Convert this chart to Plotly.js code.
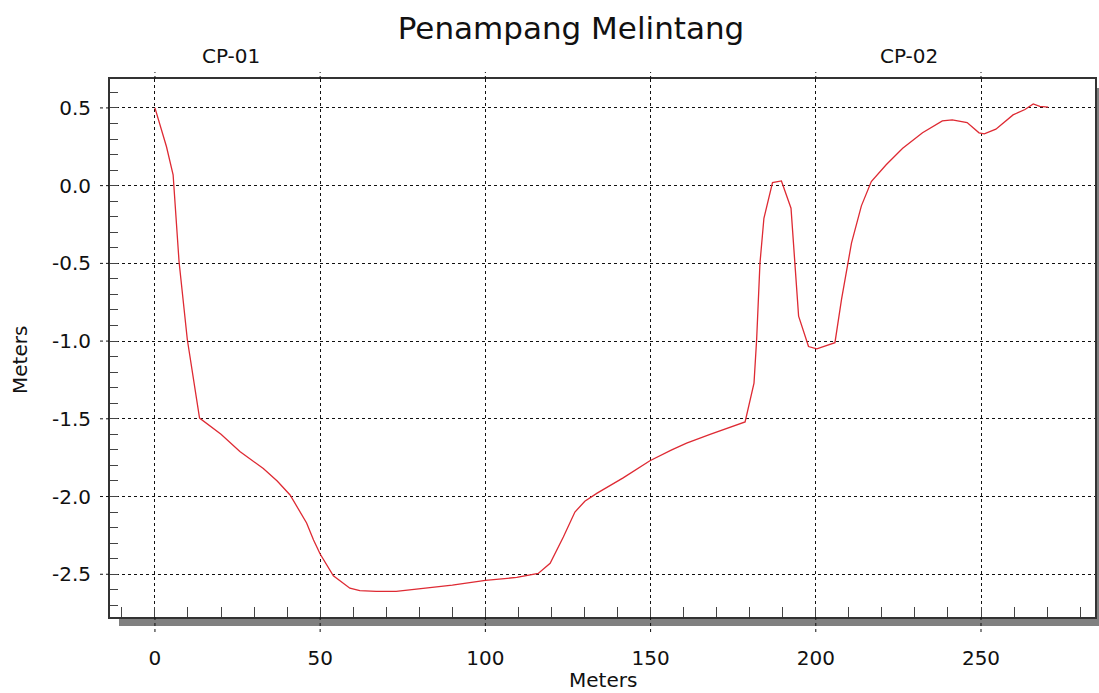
<!DOCTYPE html>
<html>
<head>
<meta charset="utf-8">
<script src="https://cdn.plot.ly/plotly-3.0.1.min.js"></script>
<style>
  html, body { margin: 0; padding: 0; background: #ffffff; }
  #chart { width: 1099px; height: 693px; }
</style>
</head>
<body>
<div id="chart"></div>
<script>
// Distance along the section (m)
var distance = [0, 3.5, 5.5, 7.3, 9.8, 13.5, 20, 25.7, 32.8, 37, 40.9, 43.5, 45.9, 48, 50, 54, 59, 62, 67, 73,
  80, 90, 100, 109.5, 116, 119.6, 123.6, 127.1, 130.1, 133.7, 141.7, 149.8, 156.4, 160.9, 168, 178.6,
  181.3, 182.1, 183.1, 184.3, 186.9, 189.6, 192.5, 193.7, 194.8, 197.8, 200.3, 205.8, 207.8, 210.8,
  213.8, 216.8, 221.3, 226.3, 232.3, 238.3, 241.3, 245.8, 249.4, 251, 254.5, 259.7, 263.3, 265.8, 267.8, 270.3];
// Elevation (m)
var elevation = [0.5, 0.25, 0.07, -0.49, -0.99, -1.495, -1.60, -1.71, -1.82, -1.90, -1.99, -2.085, -2.17, -2.28, -2.37,
  -2.51, -2.59, -2.605, -2.61, -2.61, -2.595, -2.57, -2.54, -2.52, -2.495, -2.43, -2.26, -2.10, -2.03, -1.98,
  -1.88, -1.77, -1.70, -1.656, -1.60, -1.52, -1.27, -0.99, -0.50, -0.21, 0.02, 0.03, -0.145, -0.48, -0.84,
  -1.035, -1.05, -1.01, -0.73, -0.37, -0.13, 0.026, 0.134, 0.24, 0.34, 0.417, 0.423, 0.406, 0.34, 0.333,
  0.363, 0.455, 0.49, 0.526, 0.51, 0.505];

var xTickVals = [0, 50, 100, 150, 200, 250];
var xTickText = ['0', '50', '100', '150', '200', '250'];
var yTickVals = [0.5, 0, -0.5, -1, -1.5, -2, -2.5];
var yTickText = ['0.5', '0.0', '-0.5', '-1.0', '-1.5', '-2.0', '-2.5'];

var stationNames = ['CP-01', 'CP-02'];
var stationPos = [22.9, 228.2];

var titleText = 'Penampang Melintang';
var xTitle = 'Meters';
var yTitle = 'Meters';

var FONT = 'DejaVu Sans, Verdana, sans-serif';
var xRange = [-13.6, 284.5];
var yRange = [-2.775, 0.686];

var M = {l: 110, r: 4, t: 79, b: 76};
var W = 1099, H = 693;
var pw = W - M.l - M.r, ph = H - M.t - M.b;

var shapes = [];
// dashed grid extensions outside the plot frame
xTickVals.forEach(function (v) {
  shapes.push({type: 'line', xref: 'x', yref: 'paper', x0: v, x1: v, y0: 1, y1: 1 + 7 / ph,
    line: {color: '#111', width: 1, dash: '3px,3px'}});
  shapes.push({type: 'line', xref: 'x', yref: 'paper', x0: v, x1: v, y0: 0, y1: -16 / ph,
    line: {color: '#111', width: 1, dash: '3px,3px'}});
});
yTickVals.forEach(function (v) {
  shapes.push({type: 'line', xref: 'paper', yref: 'y', x0: -10 / pw, x1: 0, y0: v, y1: v,
    line: {color: '#111', width: 1, dash: '3px,3px'}});
});
// drop shadow (bottom and right)
shapes.push({type: 'rect', xref: 'paper', yref: 'paper', layer: 'below',
  x0: 9 / pw, x1: 1 + 9 / pw, y0: -9 / ph, y1: -1 / ph, line: {width: 0}, fillcolor: '#808080'});
shapes.push({type: 'rect', xref: 'paper', yref: 'paper', layer: 'below',
  x0: 1 + 1 / pw, x1: 1 + 9 / pw, y0: -9 / ph, y1: 1 - 9 / ph, line: {width: 0}, fillcolor: '#808080'});

var annotations = stationNames.map(function (n, i) {
  return {text: n, x: stationPos[i], xref: 'x', y: 1 + 23 / ph, yref: 'paper',
    xanchor: 'center', yanchor: 'middle', showarrow: false,
    font: {family: FONT, size: 20, color: '#111'}};
});
annotations.push({text: xTitle, xref: 'paper', yref: 'paper', x: 0.5, y: -63 / ph,
  xanchor: 'center', yanchor: 'middle', showarrow: false, font: {family: FONT, size: 20, color: '#111'}});
annotations.push({text: yTitle, xref: 'paper', yref: 'paper', x: -90 / pw, y: (H - M.b - 360) / ph,
  xanchor: 'center', yanchor: 'middle', textangle: -90, showarrow: false,
  font: {family: FONT, size: 20, color: '#111'}});

var trace = {
  x: distance, y: elevation, type: 'scatter', mode: 'lines',
  line: {color: '#de2a33', width: 1.3}, hoverinfo: 'x+y', showlegend: false
};

var layout = {
  width: W, height: H,
  margin: M,
  paper_bgcolor: '#ffffff', plot_bgcolor: '#ffffff',
  title: {text: titleText, x: 571 / W, xref: 'container', xanchor: 'center', y: 1 - 28 / H, yanchor: 'middle',
    font: {family: FONT, size: 31, color: '#111'}},
  font: {family: FONT, size: 20, color: '#111'},
  xaxis: {
    range: xRange, tickmode: 'array', tickvals: xTickVals, ticktext: xTickText,
    ticks: '', ticklabelstandoff: 22,
    showgrid: true, gridcolor: '#111', gridwidth: 1, griddash: '3px,3px',
    zeroline: false, showline: true, linecolor: '#333', linewidth: 2, mirror: true,
    tickfont: {family: FONT, size: 20, color: '#111'},
    minor: {tickmode: 'linear', tick0: 0, dtick: 10, ticks: 'inside', ticklen: 10, tickwidth: 1,
      tickcolor: '#444', showgrid: false}
  },
  yaxis: {
    range: yRange, tickmode: 'array', tickvals: yTickVals, ticktext: yTickText,
    ticks: '', ticklabelstandoff: 13,
    showgrid: true, gridcolor: '#111', gridwidth: 1, griddash: '3px,3px',
    zeroline: false, showline: true, linecolor: '#333', linewidth: 2, mirror: true,
    tickfont: {family: FONT, size: 20, color: '#111'},
    minor: {tickmode: 'linear', tick0: 0, dtick: 0.1, ticks: 'inside', ticklen: 8, tickwidth: 1,
      tickcolor: '#444', showgrid: false}
  },
  shapes: shapes,
  annotations: annotations
};

Plotly.newPlot('chart', [trace], layout, {displayModeBar: false, staticPlot: true});
</script>
</body>
</html>
